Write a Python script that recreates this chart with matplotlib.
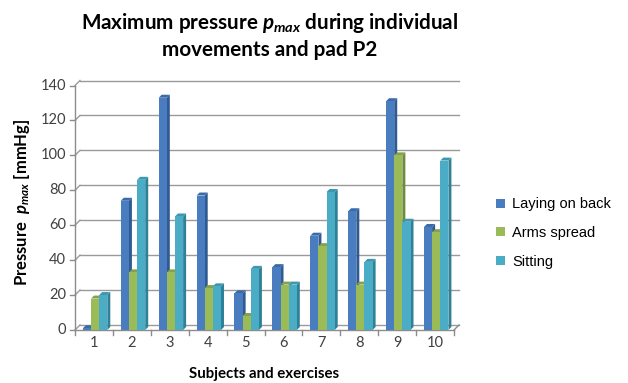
import matplotlib
matplotlib.use("Agg")
import matplotlib.pyplot as plt
from matplotlib.patches import Polygon, Patch
import numpy as np

# Data
categories = ["1", "2", "3", "4", "5", "6", "7", "8", "9", "10"]
series_names = ["Laying on back", "Arms spread", "Sitting"]
laying_on_back = [1, 74, 133, 77, 21, 36, 54, 68, 131, 59]
arms_spread = [18, 33, 33, 24, 8, 26, 48, 26, 100, 56]
sitting = [20, 86, 65, 25, 35, 26, 79, 39, 62, 97]
y_ticks = [0, 20, 40, 60, 80, 100, 120, 140]

front_colors = ["#4a7dbf", "#9bbb59", "#4bacc6"]
side_colors = ["#2f5a92", "#6f8a3b", "#2f8197"]
top_colors = ["#3b6aa8", "#84a24a", "#3c98b0"]

plt.rcParams["font.family"] = ["Lato", "DejaVu Sans"]
plt.rcParams["mathtext.fontset"] = "custom"
plt.rcParams["mathtext.rm"] = "Lato:bold"
plt.rcParams["mathtext.it"] = "Lato:italic:bold"
plt.rcParams["mathtext.bf"] = "Lato:bold"

W, H, DPI = 628, 383, 100
fig = plt.figure(figsize=(W / DPI, H / DPI), dpi=DPI)
fig.patch.set_facecolor("white")

# axes box in pixels (front plane)
left_px, right_px, bottom_px, top_px = 75, 454, 330, 85.5
ax = fig.add_axes([left_px / W, 1 - bottom_px / H,
                   (right_px - left_px) / W, (bottom_px - top_px) / H])
ax.set_xlim(0.5, 10.5)
ax.set_ylim(0, 140)
ax.axis("off")

# pixel -> data unit conversions
ux = 10.0 / (right_px - left_px)
uy = 140.0 / (bottom_px - top_px)
wall_dx, wall_dy = 5 * ux, 5 * uy      # back-wall depth
bar_dx, bar_dy = 3 * ux, 3 * uy        # bar depth

grid_c = "#9a9a9a"
axis_c = "#8c8c8c"
x0, x1 = 0.5, 10.5

# back-wall gridlines with left-wall diagonals
for v in y_ticks:
    ax.plot([x0 + wall_dx, x1 + wall_dx], [v + wall_dy, v + wall_dy],
            color=grid_c, lw=1.0, clip_on=False, zorder=1)
    ax.plot([x0, x0 + wall_dx], [v, v + wall_dy],
            color=grid_c, lw=1.0, clip_on=False, zorder=1)
    # tick marks on the value axis
    ax.plot([x0 - 5 * ux, x0], [v, v], color=axis_c, lw=1.0, clip_on=False, zorder=1)
    ax.text(x0 - 9 * ux, v, str(v), ha="right", va="center",
            fontsize=10.5, color="#404040")

# floor outline
ax.plot([x0, x1], [0, 0], color=axis_c, lw=1.0, clip_on=False, zorder=1)
ax.plot([x1, x1 + wall_dx], [0, wall_dy], color=axis_c, lw=1.0, clip_on=False, zorder=1)
# value axis line
ax.plot([x0, x0], [0, 140], color=axis_c, lw=1.0, clip_on=False, zorder=1)

# category ticks and labels
for i in range(len(categories) + 1):
    xb = x0 + i
    ax.plot([xb, xb], [0, -5 * uy], color=axis_c, lw=1.0, clip_on=False, zorder=1)
for i, c in enumerate(categories):
    ax.text(i + 1, -13 * uy, c, ha="center", va="center",
            fontsize=10.5, color="#404040")

# 3D-style bars
bw = 0.215
x = np.arange(1, len(categories) + 1)
all_series = [laying_on_back, arms_spread, sitting]
for i in range(len(categories)):
    for s, vals in enumerate(all_series):
        v = vals[i]
        xl = x[i] + (s - 1) * bw - bw / 2 + 0.03
        xr = xl + bw
        z = 3 + i * 3 + s
        ax.add_patch(Polygon([(xr, 0), (xr + bar_dx, bar_dy), (xr + bar_dx, v + bar_dy), (xr, v)],
                             closed=True, facecolor=side_colors[s], edgecolor="none",
                             clip_on=False, zorder=z))
        ax.add_patch(Polygon([(xl, v), (xr, v), (xr + bar_dx, v + bar_dy), (xl + bar_dx, v + bar_dy)],
                             closed=True, facecolor=top_colors[s], edgecolor="none",
                             clip_on=False, zorder=z))
        ax.bar(xl, v, width=bw, align="edge", color=front_colors[s],
               edgecolor="none", zorder=z, clip_on=False)

# titles and labels
fig.text(270 / W, 1 - 23 / H, r"Maximum pressure $p_{max}$ during individual",
         ha="center", va="center", fontsize=14.9, fontweight="bold")
fig.text(270 / W, 1 - 50 / H, "movements and pad P2",
         ha="center", va="center", fontsize=14.9, fontweight="bold")
fig.text(22 / W, 1 - 202 / H, r"Pressure  $p_{max}$ [mmHg]", rotation=90,
         ha="center", va="center", fontsize=12, fontweight="bold")
fig.text(264 / W, 1 - 374 / H, "Subjects and exercises",
         ha="center", va="center", fontsize=10.8, fontweight="bold")

# legend
handles = [Patch(facecolor=c, edgecolor="none") for c in front_colors]
fig.legend(handles, series_names, loc="center left",
           bbox_to_anchor=(483 / W, 1 - 233 / H), frameon=False,
           handlelength=0.6, handleheight=0.6, handletextpad=0.5,
           labelspacing=1.0,
           prop={"family": ["Liberation Sans", "DejaVu Sans"], "size": 10.5})

fig.savefig("out.png", dpi=DPI, facecolor="white")
